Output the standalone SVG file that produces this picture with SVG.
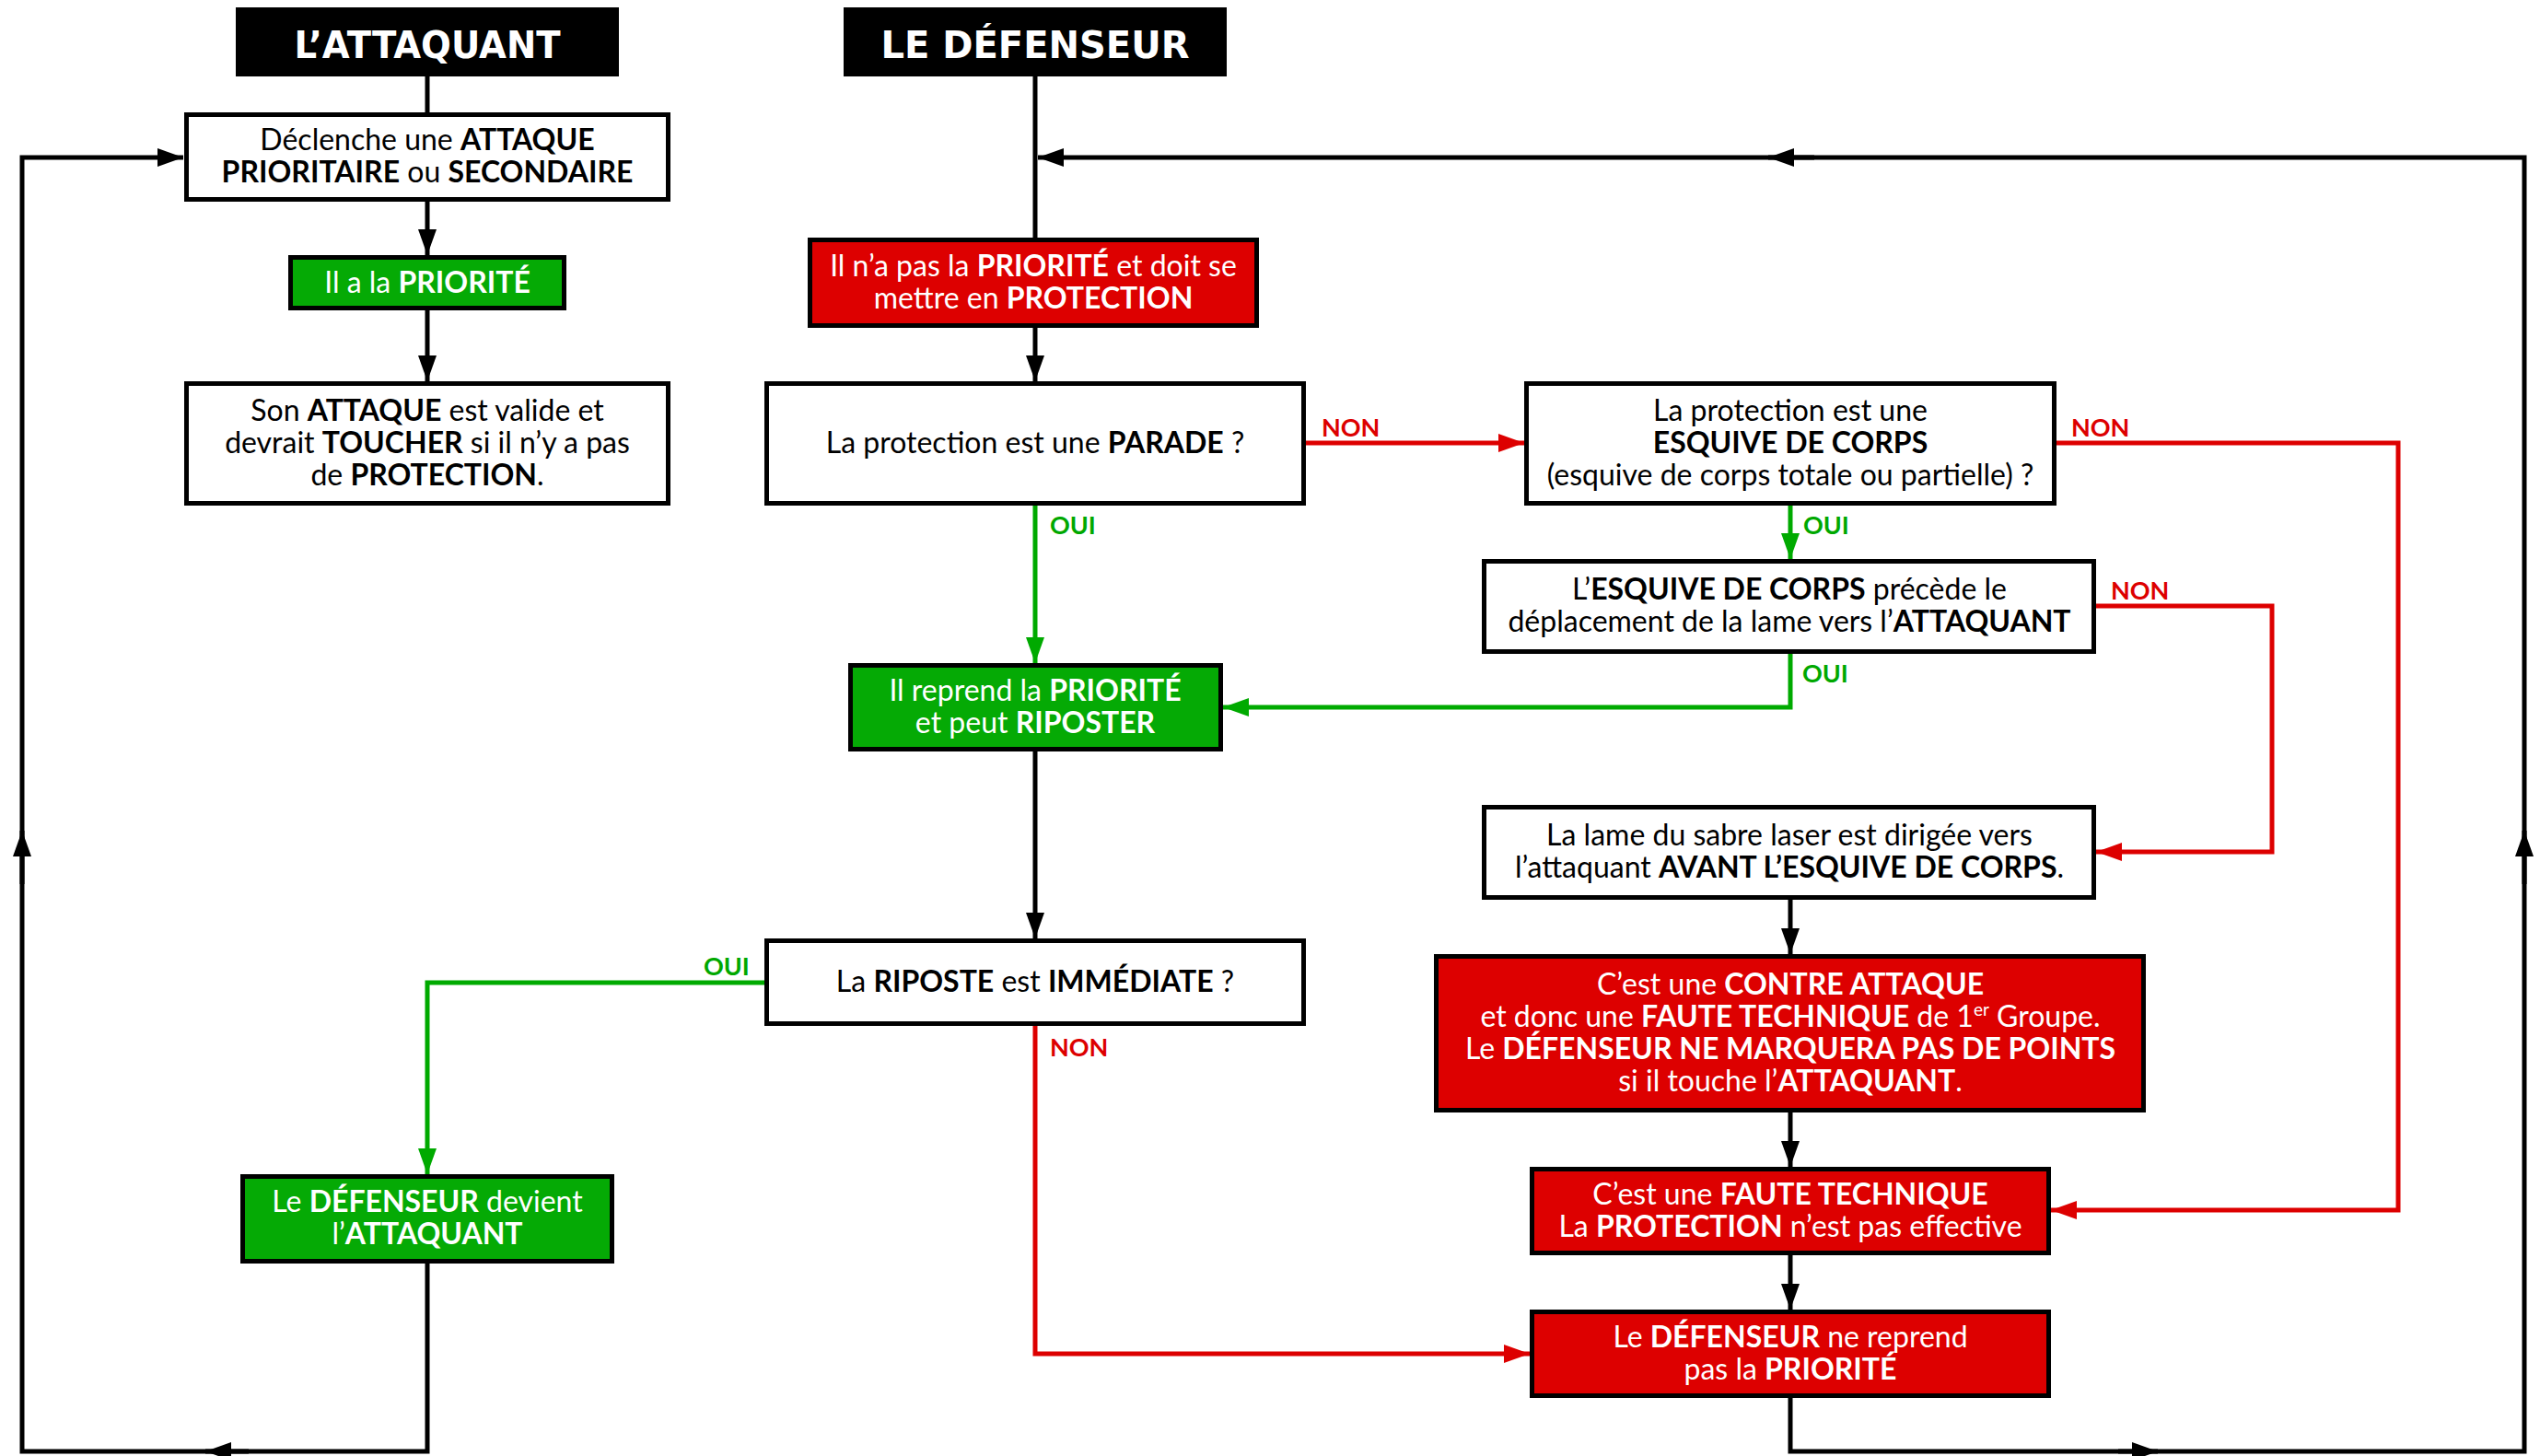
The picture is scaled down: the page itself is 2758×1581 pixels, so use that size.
<svg xmlns="http://www.w3.org/2000/svg" width="2758" height="1581" viewBox="0 0 2758 1581">
<style>
.bx{stroke:#000;stroke-width:5}
.w{fill:#fff}.g{fill:#05AA05}.r{fill:#DD0000}.hd{fill:#000}
text{font-family:Lato,"Open Sans","Liberation Sans",sans-serif;font-size:32px;text-anchor:middle;fill:#000}
.tw{fill:#fff}
.b{font-weight:700}
.hdr{font-family:"DejaVu Sans","Liberation Sans",sans-serif;font-weight:bold;font-size:40px;fill:#fff}
.lbl{font-size:27px;font-weight:700;text-anchor:start}
.lr{fill:#DD0000}.lg{fill:#00A800}
.ln{fill:none;stroke-width:5}
.k{stroke:#000}.gl{stroke:#00AA00}.rl{stroke:#DD0000}
</style>
<defs>
<marker id="ak" markerUnits="userSpaceOnUse" markerWidth="28" markerHeight="20" refX="28" refY="10" orient="auto"><path d="M0,0 L28,10 L0,20 z" fill="#000"/></marker>
<marker id="ag" markerUnits="userSpaceOnUse" markerWidth="28" markerHeight="20" refX="28" refY="10" orient="auto"><path d="M0,0 L28,10 L0,20 z" fill="#00AA00"/></marker>
<marker id="ar" markerUnits="userSpaceOnUse" markerWidth="28" markerHeight="20" refX="28" refY="10" orient="auto"><path d="M0,0 L28,10 L0,20 z" fill="#DD0000"/></marker>
</defs>
<rect width="2758" height="1581" fill="#fff"/>
<g id="connectors">
<path class="ln k" d="M464,83 V122"/>
<path class="ln k" d="M464,219 V277" marker-end="url(#ak)"/>
<path class="ln k" d="M464,337 V414" marker-end="url(#ak)"/>
<path class="ln k" d="M1124,83 V258"/>
<path class="ln k" d="M1124,356 V414" marker-end="url(#ak)"/>
<path class="ln rl" d="M1418,481 H1655" marker-end="url(#ar)"/>
<path class="ln gl" d="M1124,549 V720" marker-end="url(#ag)"/>
<path class="ln gl" d="M1944,549 V607" marker-end="url(#ag)"/>
<path class="ln rl" d="M2233,481 H2604 V1314 H2227" marker-end="url(#ar)"/>
<path class="ln rl" d="M2276,658 H2467 V925 H2276" marker-end="url(#ar)"/>
<path class="ln gl" d="M1944,710 V768 H1328" marker-end="url(#ag)"/>
<path class="ln k" d="M1124,816 V1019" marker-end="url(#ak)"/>
<path class="ln gl" d="M830,1067 H464 V1275" marker-end="url(#ag)"/>
<path class="ln rl" d="M1124,1114 V1470 H1661" marker-end="url(#ar)"/>
<path class="ln k" d="M1944,977 V1036" marker-end="url(#ak)"/>
<path class="ln k" d="M1944,1208 V1267" marker-end="url(#ak)"/>
<path class="ln k" d="M1944,1363 V1422" marker-end="url(#ak)"/>
<path class="ln k" d="M1944,1518 V1576 H2741 V171 H1127" marker-end="url(#ak)"/>
<path class="ln k" d="M2300,1576 H2343" marker-end="url(#ak)"/>
<path class="ln k" d="M2741,960 V902" marker-end="url(#ak)"/>
<path class="ln k" d="M1970,171 H1920" marker-end="url(#ak)"/>
<path class="ln k" d="M464,1372 V1576 H24 V171 H199" marker-end="url(#ak)"/>
<path class="ln k" d="M270,1576 H223" marker-end="url(#ak)"/>
<path class="ln k" d="M24,960 V902" marker-end="url(#ak)"/>
<text class="lbl lr" x="1435" y="474">NON</text>
<text class="lbl lg" x="1140" y="580">OUI</text>
<text class="lbl lr" x="2249" y="474">NON</text>
<text class="lbl lg" x="1958" y="580">OUI</text>
<text class="lbl lr" x="2292" y="651">NON</text>
<text class="lbl lg" x="1957" y="741">OUI</text>
<text class="lbl lg" x="764" y="1059">OUI</text>
<text class="lbl lr" x="1140" y="1147">NON</text>
</g>
<g id="h-attaquant"><rect class="hd" x="256" y="8" width="416" height="75"/><text class="hdr" x="464" y="63" textLength="289" lengthAdjust="spacingAndGlyphs">L’ATTAQUANT</text></g>
<g id="h-defenseur"><rect class="hd" x="916" y="8" width="416" height="75"/><text class="hdr" x="1124" y="63" textLength="335" lengthAdjust="spacingAndGlyphs">LE DÉFENSEUR</text></g>
<g id="n-declenche"><rect class="bx w" x="202.5" y="124.5" width="523" height="92"/>
<text x="464" y="163">Déclenche une <tspan class="b">ATTAQUE</tspan></text>
<text x="464" y="198"><tspan class="b">PRIORITAIRE</tspan> ou <tspan class="b">SECONDAIRE</tspan></text></g>
<g id="n-priorite"><rect class="bx g" x="315.5" y="279.5" width="297" height="55"/>
<text class="tw" x="464" y="318">Il a la <tspan class="b">PRIORITÉ</tspan></text></g>
<g id="n-valide"><rect class="bx w" x="202.5" y="416.5" width="523" height="130"/>
<text x="464" y="456.5">Son <tspan class="b">ATTAQUE</tspan> est valide et</text>
<text x="464" y="491.5">devrait <tspan class="b">TOUCHER</tspan> si il n’y a pas</text>
<text x="464" y="526.5">de <tspan class="b">PROTECTION</tspan>.</text></g>
<g id="n-protection"><rect class="bx r" x="879.5" y="260.5" width="485" height="93"/>
<text class="tw" x="1122" y="299.5">Il n’a pas la <tspan class="b">PRIORITÉ</tspan> et doit se</text>
<text class="tw" x="1122" y="334.5">mettre en <tspan class="b">PROTECTION</tspan></text></g>
<g id="n-parade"><rect class="bx w" x="832.5" y="416.5" width="583" height="130"/>
<text x="1124" y="492">La protection est une <tspan class="b">PARADE</tspan> ?</text></g>
<g id="n-esquive"><rect class="bx w" x="1657.5" y="416.5" width="573" height="130"/>
<text x="1944" y="456.5">La protection est une</text>
<text x="1944" y="491.5" class="b">ESQUIVE DE CORPS</text>
<text x="1944" y="526.5">(esquive de corps totale ou partielle) ?</text></g>
<g id="n-precede"><rect class="bx w" x="1611.5" y="609.5" width="662" height="98"/>
<text x="1943" y="651">L’<tspan class="b">ESQUIVE DE CORPS</tspan> précède le</text>
<text x="1943" y="686">déplacement de la lame vers l’<tspan class="b">ATTAQUANT</tspan></text></g>
<g id="n-reprend"><rect class="bx g" x="923.5" y="722.5" width="402" height="91"/>
<text class="tw" x="1124" y="760.5">Il reprend la <tspan class="b">PRIORITÉ</tspan></text>
<text class="tw" x="1124" y="795.5">et peut <tspan class="b">RIPOSTER</tspan></text></g>
<g id="n-lame"><rect class="bx w" x="1611.5" y="876.5" width="662" height="98"/>
<text x="1943" y="918">La lame du sabre laser est dirigée vers</text>
<text x="1943" y="953">l’attaquant <tspan class="b">AVANT L’ESQUIVE DE CORPS</tspan>.</text></g>
<g id="n-riposte"><rect class="bx w" x="832.5" y="1021.5" width="583" height="90"/>
<text x="1124" y="1077">La <tspan class="b">RIPOSTE</tspan> est <tspan class="b">IMMÉDIATE</tspan> ?</text></g>
<g id="n-contre"><rect class="bx r" x="1559.5" y="1038.5" width="768" height="167"/>
<text class="tw" x="1944" y="1080">C’est une <tspan class="b">CONTRE ATTAQUE</tspan></text>
<text class="tw" x="1944" y="1115">et donc une <tspan class="b">FAUTE TECHNIQUE</tspan> de 1<tspan font-size="19" dy="-12">er</tspan><tspan dy="12"> Groupe.</tspan></text>
<text class="tw" x="1944" y="1150">Le <tspan class="b">DÉFENSEUR NE MARQUERA PAS DE POINTS</tspan></text>
<text class="tw" x="1944" y="1185">si il touche l’<tspan class="b">ATTAQUANT</tspan>.</text></g>
<g id="n-faute"><rect class="bx r" x="1663.5" y="1269.5" width="561" height="91"/>
<text class="tw" x="1944" y="1307.5">C’est une <tspan class="b">FAUTE TECHNIQUE</tspan></text>
<text class="tw" x="1944" y="1342.5">La <tspan class="b">PROTECTION</tspan> n’est pas effective</text></g>
<g id="n-nereprend"><rect class="bx r" x="1663.5" y="1424.5" width="561" height="91"/>
<text class="tw" x="1944" y="1462.5">Le <tspan class="b">DÉFENSEUR</tspan> ne reprend</text>
<text class="tw" x="1944" y="1497.5">pas la <tspan class="b">PRIORITÉ</tspan></text></g>
<g id="n-devient"><rect class="bx g" x="263.5" y="1277.5" width="401" height="92"/>
<text class="tw" x="464" y="1316">Le <tspan class="b">DÉFENSEUR</tspan> devient</text>
<text class="tw" x="464" y="1351">l’<tspan class="b">ATTAQUANT</tspan></text></g>
</svg>
